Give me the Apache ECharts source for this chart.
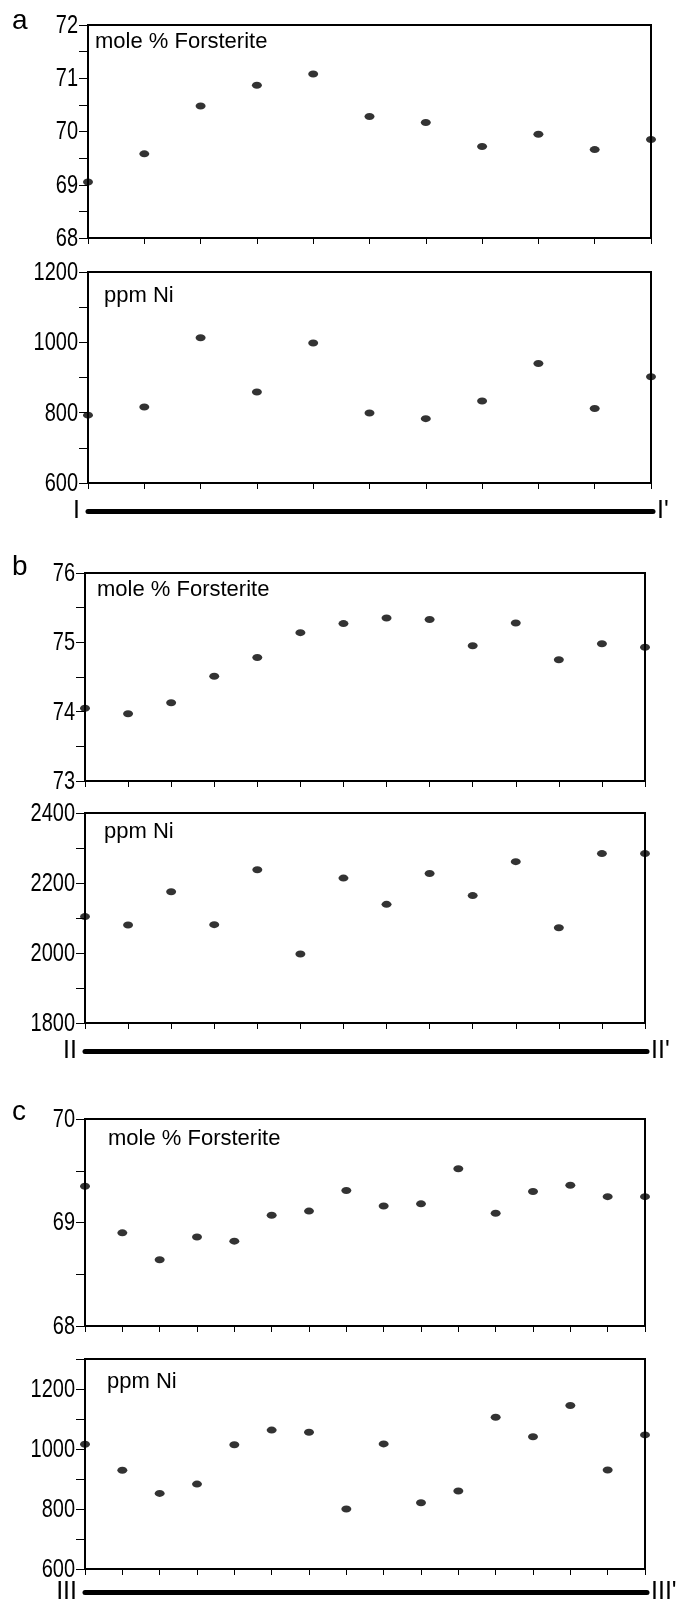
<!DOCTYPE html>
<html>
<head>
<meta charset="utf-8">
<script src="https://cdn.jsdelivr.net/npm/echarts@6/dist/echarts.min.js"></script>
<style>
  html, body { margin: 0; padding: 0; background: #fff; }
  #chart { width: 678px; height: 1607px; }
</style>
</head>
<body>
<div id="chart"></div>
<script>
// ---- data ----
const panelLetters = ['a', 'b', 'c'];
const profileStart = ['I', 'II', 'III'];
const profileEnd = ["I'", "II'", "III'"];
const foLabel = 'mole % Forsterite';
const niLabel = 'ppm Ni';

const aFo = [69.05, 69.58, 70.48, 70.87, 71.08, 70.28, 70.17, 69.72, 69.95, 69.66, 69.85];
const aNi = [793, 816, 1013, 859, 998, 799, 783, 833, 940, 812, 902];
const bFo = [74.05, 73.97, 74.13, 74.51, 74.78, 75.14, 75.27, 75.35, 75.33, 74.95, 75.28, 74.75, 74.98, 74.93];
const bNi = [2104, 2080, 2175, 2081, 2238, 1997, 2214, 2139, 2227, 2164, 2261, 2072, 2284, 2284];
const cFo = [69.35, 68.90, 68.64, 68.86, 68.82, 69.07, 69.11, 69.31, 69.16, 69.18, 69.52, 69.09, 69.30, 69.36, 69.25, 69.25];
const cNi = [1016, 929, 852, 883, 1014, 1063, 1056, 800, 1017, 821, 860, 1106, 1041, 1145, 930, 1047];

const aFoTicks = [68, 69, 70, 71, 72];
const aNiTicks = [600, 800, 1000, 1200];
const bFoTicks = [73, 74, 75, 76];
const bNiTicks = [1800, 2000, 2200, 2400];
const cFoTicks = [68, 69, 70];
const cNiTicks = [600, 800, 1000, 1200];

// axis extents (min, max, minor step)
const aFoRange = [68, 72, 0.5];
const aNiRange = [600, 1200, 100];
const bFoRange = [73, 76, 0.5];
const bNiRange = [1800, 2400, 100];
const cFoRange = [68, 70, 0.5];
const cNiRange = [600, 1300, 100];

// ---- layout ----
const SANS = '"Liberation Sans", Arial, Helvetica, sans-serif';

const panels = [
  { fo: aFo, ni: aNi, foTicks: aFoTicks, niTicks: aNiTicks, foRange: aFoRange, niRange: aNiRange,
    left: 88, right: 27, top1: 25, h1: 213, top2: 272, h2: 211, lineY: 511,
    letterTop: 7, foLab: [95, 31], niLab: [104, 285] },
  { fo: bFo, ni: bNi, foTicks: bFoTicks, niTicks: bNiTicks, foRange: bFoRange, niRange: bNiRange,
    left: 85, right: 33, top1: 573, h1: 208, top2: 813, h2: 210, lineY: 1051,
    letterTop: 553, foLab: [97, 579], niLab: [104, 821] },
  { fo: cFo, ni: cNi, foTicks: cFoTicks, niTicks: cNiTicks, foRange: cFoRange, niRange: cNiRange,
    left: 85, right: 33, top1: 1119, h1: 207, top2: 1359, h2: 210, lineY: 1592,
    letterTop: 1098, foLab: [108, 1128], niLab: [107, 1371] }
];

const grid = [], xAxis = [], yAxis = [], series = [], title = [];
const labelAxes = []; // [yAxisIndex, ticks, gridLeft]

function dataAxisX(gi, n) {
  return {
    gridIndex: gi, type: 'value', min: 0, max: n - 1, interval: 1,
    axisLine: { show: true, onZero: false, lineStyle: { color: '#000', width: 2 } },
    axisTick: { show: true, length: 6, lineStyle: { color: '#000', width: 1 } },
    axisLabel: { show: false }, splitLine: { show: false }
  };
}
function dataAxisY(gi, range) {
  return {
    gridIndex: gi, type: 'value', min: range[0], max: range[1], interval: range[2],
    axisLine: { show: true, onZero: false, lineStyle: { color: '#000', width: 2 } },
    axisTick: { show: true, length: 9, lineStyle: { color: '#000', width: 1 } },
    axisLabel: { show: false },
    splitLine: { show: false }
  };
}

panels.forEach(function (p, k) {
  const g0 = grid.length;
  grid.push({ left: p.left, right: p.right, top: p.top1, height: p.h1, show: true, borderColor: '#000', borderWidth: 2 });
  grid.push({ left: p.left, right: p.right, top: p.top2, height: p.h2, show: true, borderColor: '#000', borderWidth: 2 });
  grid.push({ left: p.left, right: p.right - 2, top: p.lineY - 1, height: 1 });

  const x0 = xAxis.length;
  xAxis.push(dataAxisX(g0, p.fo.length));
  xAxis.push(dataAxisX(g0 + 1, p.ni.length));
  const y0 = yAxis.length;
  yAxis.push(dataAxisY(g0, p.foRange));
  yAxis.push(dataAxisY(g0 + 1, p.niRange));
  labelAxes.push([y0, p.foTicks, p.left]);
  labelAxes.push([y0 + 1, p.niTicks, p.left]);

  // profile line with end labels
  xAxis.push({
    gridIndex: g0 + 2, type: 'value', min: 0, max: 1, position: 'bottom',
    axisLine: { show: true, onZero: false, lineStyle: { color: '#000', width: 5, cap: 'round' } },
    axisTick: { show: false }, axisLabel: { show: false }, splitLine: { show: false },
    name: profileEnd[k], nameLocation: 'end', nameGap: 4,
    nameTextStyle: { fontFamily: SANS, fontSize: 25, color: '#000' }
  });
  xAxis.push({
    gridIndex: g0 + 2, type: 'value', min: 0, max: 1, position: 'bottom',
    axisLine: { show: false }, axisTick: { show: false }, axisLabel: { show: false }, splitLine: { show: false },
    name: profileStart[k], nameLocation: 'start', nameGap: 8,
    nameTextStyle: { fontFamily: SANS, fontSize: 25, color: '#000' }
  });
  yAxis.push({ gridIndex: g0 + 2, type: 'value', min: 0, max: 1, show: false });

  const sym = { type: 'scatter', symbol: 'circle', symbolSize: [10, 7], clip: false, silent: true,
                itemStyle: { color: '#000' } };
  series.push(Object.assign({}, sym, { xAxisIndex: x0, yAxisIndex: y0, data: p.fo.map(function (v, i) { return [i, v]; }) }));
  series.push(Object.assign({}, sym, { xAxisIndex: x0 + 1, yAxisIndex: y0 + 1, data: p.ni.map(function (v, i) { return [i, v]; }) }));

  title.push({ text: panelLetters[k], left: 12, top: p.letterTop, padding: 0,
    textStyle: { fontFamily: SANS, fontSize: 28, fontWeight: 'normal', color: '#000' } });
  title.push({ text: foLabel, left: p.foLab[0], top: p.foLab[1], padding: 0,
    textStyle: { fontFamily: SANS, fontSize: 22, fontWeight: 'normal', color: '#000' } });
  title.push({ text: niLabel, left: p.niLab[0], top: p.niLab[1], padding: 0,
    textStyle: { fontFamily: SANS, fontSize: 22, fontWeight: 'normal', color: '#000' } });
});

const chart = echarts.init(document.getElementById('chart'), null, { renderer: 'canvas' });
chart.setOption({ animation: false, backgroundColor: '#fff', title: title, grid: grid, xAxis: xAxis, yAxis: yAxis, series: series });

// condensed tick labels, placed through the library's own y scales
const labelEls = [];
labelAxes.forEach(function (a) {
  a[1].forEach(function (v) {
    const py = chart.convertToPixel({ yAxisIndex: a[0] }, v);
    labelEls.push({
      type: 'text', x: a[2] - 10, y: py + 1, scaleX: 0.8, silent: true,
      style: { text: String(v), align: 'right', verticalAlign: 'middle',
               font: '25px "Liberation Sans", Arial, sans-serif', fill: '#000' }
    });
  });
});
chart.setOption({ graphic: { elements: labelEls } });
</script>
</body>
</html>
